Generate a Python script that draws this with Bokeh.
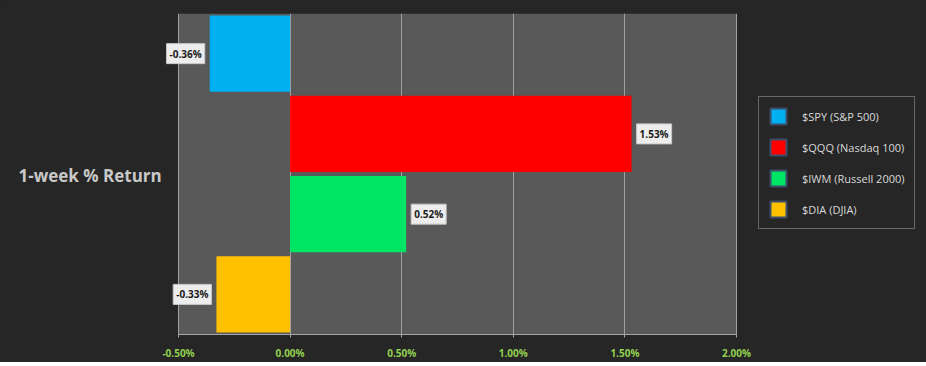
from bokeh.plotting import figure
from bokeh.models import (ColumnDataSource, FixedTicker, Legend, LegendItem, Label, Range1d,
                          BoxAnnotation)
from bokeh.embed import file_html
from bokeh.resources import INLINE

categories = ["$SPY (S&P 500)", "$QQQ (Nasdaq 100)", "$IWM (Russell 2000)", "$DIA (DJIA)"]
returns = [-0.36, 1.53, 0.52, -0.33]
value_labels = ["-0.36%", "1.53%", "0.52%", "-0.33%"]
colors = ["#00B0F0", "#FF0000", "#00E564", "#FFC000"]
tick_values = [-0.5, 0.0, 0.5, 1.0, 1.5, 2.0]
tick_labels = ["-0.50%", "0.00%", "0.50%", "1.00%", "1.50%", "2.00%"]
title_text = "1-week % Return"

BG = "#262626"
FRAME = "#595959"
FONT = "Open Sans"

W, H = 926, 366
PLOT_LEFT, PLOT_RIGHT = 178, 736          # pixel span of the -0.5 .. 2.0 area
xmin, xmax = tick_values[0], tick_values[-1]
ppu = (PLOT_RIGHT - PLOT_LEFT) / (xmax - xmin)
x_start = xmin - PLOT_LEFT / ppu
x_end = xmax + (W - PLOT_RIGHT) / ppu

y_factors = list(reversed(categories))

p = figure(width=W, height=H, output_backend="svg", toolbar_location=None,
           y_range=y_factors, x_range=Range1d(x_start, x_end),
           frame_width=W, frame_height=321,
           min_border_left=0, min_border_right=0, min_border_top=13, min_border_bottom=0)
p.background_fill_color = BG
p.border_fill_color = BG
p.outline_line_color = None
p.styles = {"background-color": BG}

# plot-area background
p.add_layout(BoxAnnotation(left=xmin, right=xmax, fill_color=FRAME, fill_alpha=1,
                           line_color=None, line_alpha=0, line_width=0, level="image"))

src = ColumnDataSource(dict(cat=categories, val=returns, col=colors))
p.hbar(y="cat", left=0, right="val", height=0.95, fill_color="col", line_color=None, source=src)

# value labels (y in the factor range's synthetic coordinates: factor centre)
for c, v, t in zip(categories, returns, value_labels):
    yc = y_factors.index(c) + 0.5
    p.add_layout(Label(x=v, y=yc, text=t, x_offset=(-5 if v < 0 else 5),
                       text_align=("right" if v < 0 else "left"), text_baseline="middle",
                       text_font=FONT, text_font_size="10px", text_font_style="bold",
                       text_color="#1a1a1a", background_fill_color="#EDEDED",
                       border_line_color="#C8C8C8", padding=3))

# axes
p.yaxis.visible = False
p.ygrid.visible = False
p.xaxis.bounds = (xmin, xmax)
p.xaxis.ticker = FixedTicker(ticks=tick_values)
p.xaxis.major_label_overrides = {t: l for t, l in zip(tick_values, tick_labels)}
p.xaxis.major_label_text_color = "#92D050"
p.xaxis.major_label_text_font = FONT
p.xaxis.major_label_text_font_style = "bold"
p.xaxis.major_label_text_font_size = "10px"
p.xaxis.axis_line_color = "#A6A6A6"
p.xaxis.major_tick_line_color = "#A6A6A6"
p.xaxis.major_tick_out = 3
p.xaxis.major_tick_in = 0
p.xaxis.minor_tick_line_color = None
p.xaxis.major_label_standoff = 8
p.xgrid.grid_line_color = "#A0A0A0"
p.xgrid.grid_line_width = 1
p.xgrid.ticker = FixedTicker(ticks=tick_values)

# legend proxies
items = []
for c, col in zip(categories, colors):
    r = p.rect(x=[float("nan")], y=[categories[0]], width=0.1, height=0.1,
               fill_color=col, line_color="#3B4E6B", line_width=2)
    items.append(LegendItem(label=c, renderers=[r]))

legend = Legend(items=items, location=(758, 105), orientation="vertical",
                background_fill_color=BG, background_fill_alpha=1,
                border_line_color="#A6A6A6", border_line_width=1,
                label_text_color="#D9D9D9", label_text_font=FONT, label_text_font_size="11px",
                label_text_font_style="normal",
                glyph_width=20, glyph_height=20, label_height=20, spacing=11,
                label_standoff=14, padding=9, margin=0)
p.add_layout(legend)

title = Label(x=18, y=159, x_units="screen", y_units="screen", text=title_text,
              text_font=FONT, text_font_size="17px", text_font_style="bold",
              text_color="#C8C8C8", text_baseline="middle", text_align="left")
p.add_layout(title)

open("out.html", "w").write(file_html(p, INLINE))
